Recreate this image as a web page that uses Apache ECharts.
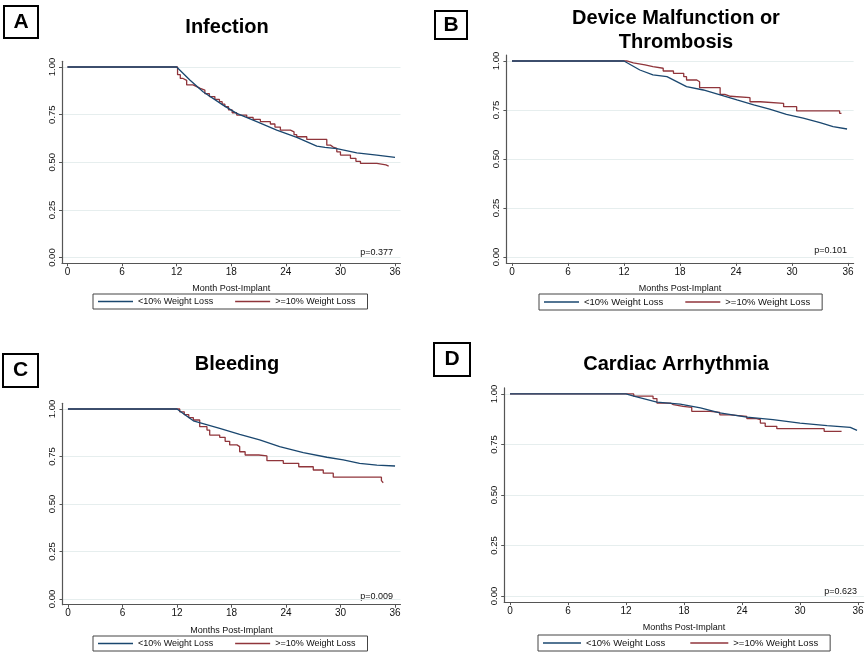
<!DOCTYPE html>
<html><head><meta charset="utf-8">
<script src="https://cdn.jsdelivr.net/npm/echarts@6/dist/echarts.min.js"></script>
<style>html,body{margin:0;padding:0;background:#fff}#c{width:867px;height:657px}</style>
</head><body><div id="c"></div>
<script>
// ---- data (month, survival) ----
const xTicks = [0, 6, 12, 18, 24, 30, 36];
const yTicks = [0, 0.25, 0.5, 0.75, 1];
const seriesNames = ['<10% Weight Loss', '>=10% Weight Loss'];
const panelTitles = ['Infection', 'Device Malfunction or\nThrombosis', 'Bleeding', 'Cardiac Arrhythmia'];
const panelLetters = ['A', 'B', 'C', 'D'];
const xAxisNames = ['Month Post-Implant', 'Months Post-Implant', 'Months Post-Implant', 'Months Post-Implant'];
const pValues = ['p=0.377', 'p=0.101', 'p=0.009', 'p=0.623'];

const infectionLow = [[0,1],[12,1],[13.45,0.932],[14.9,0.87],[17.1,0.8],[18.6,0.757],[20.8,0.713],[23,0.669],[25.2,0.631],[27.4,0.585],[28.3,0.578],[29.6,0.572],[31.8,0.55],[34,0.538],[36,0.526]];
const infectionHigh = [[0,1],[12.1,0.96],[12.4,0.94],[12.7,0.93],[13.1,0.906],[13.8,0.897],[14.2,0.888],[14.6,0.879],[15.1,0.86],[15.6,0.845],[16.2,0.83],[16.7,0.818],[17,0.805],[17.3,0.792],[17.7,0.775],[18.1,0.76],[18.6,0.748],[19.7,0.736],[20.4,0.725],[21.2,0.713],[22.3,0.701],[22.8,0.685],[23.4,0.669],[24.5,0.66],[24.9,0.645],[25.2,0.634],[26.3,0.62],[28.5,0.59],[28.9,0.58],[29.2,0.573],[29.6,0.555],[30,0.538],[31.1,0.521],[31.7,0.505],[32.2,0.494],[34,0.486],[35,0.48],[35.3,0.477]];

const deviceLow = [[0,1],[12,1],[13.7,0.954],[15.1,0.929],[16.6,0.92],[18.7,0.869],[20.5,0.852],[22.3,0.827],[24.1,0.801],[25.9,0.776],[27.6,0.755],[29.4,0.728],[31.2,0.708],[33,0.685],[34.4,0.665],[35.9,0.653]];
const deviceHigh = [[0,1],[12.3,0.99],[13,0.98],[14.25,0.971],[15.1,0.963],[16.2,0.949],[17.3,0.937],[18.4,0.92],[18.7,0.903],[19.8,0.894],[20.1,0.864],[22.3,0.83],[22.8,0.82],[23.4,0.813],[25.5,0.792],[26.6,0.784],[29.1,0.767],[30.5,0.745],[35.1,0.733],[35.3,0.733]];

const bleedingLow = [[0,1],[12,1],[13.1,0.962],[13.8,0.938],[16.7,0.898],[18.9,0.867],[21.1,0.837],[23.3,0.802],[25.9,0.77],[28.5,0.746],[30.3,0.732],[32.1,0.714],[34,0.705],[36,0.7]];
const bleedingHigh = [[0,1],[12.3,0.985],[12.8,0.97],[13.3,0.955],[13.8,0.942],[14.5,0.907],[15.3,0.889],[15.6,0.863],[16.7,0.851],[17.3,0.83],[17.8,0.811],[18.6,0.802],[18.9,0.775],[19.5,0.758],[21,0.753],[21.9,0.728],[23.7,0.714],[25.4,0.696],[27,0.679],[28.1,0.662],[29.2,0.641],[34.5,0.623],[34.7,0.612]];

const arrhythmiaLow = [[0,1],[12,1],[12.8,0.989],[15.2,0.96],[17.6,0.95],[19.7,0.931],[21.7,0.906],[24.5,0.885],[27.2,0.873],[30,0.856],[32.8,0.843],[35.2,0.835],[35.9,0.82]];
const arrhythmiaHigh = [[0,1],[12.8,0.989],[14.8,0.977],[15.2,0.955],[16.6,0.947],[16.9,0.939],[17.9,0.934],[18.8,0.914],[20.7,0.909],[21.7,0.897],[22.8,0.889],[24.5,0.878],[25.5,0.873],[25.9,0.856],[26.4,0.84],[27.6,0.828],[32.5,0.815],[34.3,0.815]];

const lowData = [infectionLow, deviceLow, bleedingLow, arrhythmiaLow];
const highData = [infectionHigh, deviceHigh, bleedingHigh, arrhythmiaHigh];

// ---- layout ----
const FONT = "'Liberation Sans', Arial, sans-serif";
const BLUE = '#1a476f', RED = '#90353b';
const grids = [
  {left: 62, top: 61.3, width: 338.5, height: 202},
  {left: 506.4, top: 55.1, width: 347.2, height: 207.8},
  {left: 62.5, top: 403.3, width: 338, height: 201.4},
  {left: 504.2, top: 387.9, width: 359.6, height: 214.2}
];
const titlePos = [{x: 222, y: 10}, {x: 671, y: 1}, {x: 232, y: 347}, {x: 671, y: 347}];
const letterBox = [{x: 4, y: 6, w: 34, h: 32}, {x: 435, y: 11, w: 32, h: 28}, {x: 3, y: 354, w: 35, h: 33}, {x: 434, y: 343, w: 36, h: 33}];
const legendPos = [
  {left: 93, top: 294, fs: 9, gap: 22, iw: 35},
  {left: 539, top: 294, fs: 9.5, gap: 22, iw: 35},
  {left: 93, top: 636, fs: 9, gap: 22, iw: 35},
  {left: 538, top: 635, fs: 9.5, gap: 25, iw: 38}
];
const pPos = [{x: 393, y: 253}, {x: 847, y: 251}, {x: 393, y: 597}, {x: 857, y: 592}];

const xAxes = [], yAxes = [], series = [], titles = [], legends = [], graphics = [];
for (let i = 0; i < 4; i++) {
  xAxes.push({
    gridIndex: i, type: 'value', min: -0.6, max: 36.6,
    name: xAxisNames[i], nameLocation: 'middle', nameGap: 21,
    nameTextStyle: {fontFamily: FONT, fontSize: 9, color: '#111'},
    axisLine: {show: true, onZero: false, lineStyle: {color: '#555', width: 1.2}},
    axisTick: {show: true, length: 3, customValues: xTicks, lineStyle: {color: '#555'}},
    axisLabel: {customValues: xTicks, fontFamily: FONT, fontSize: 10, color: '#111', margin: 4},
    splitLine: {show: false}
  });
  yAxes.push({
    gridIndex: i, type: 'value', min: -0.03, max: 1.03,
    axisLine: {show: true, onZero: false, lineStyle: {color: '#555', width: 1.2}},
    axisTick: {show: true, length: 3, customValues: yTicks, lineStyle: {color: '#555'}},
    axisLabel: {customValues: yTicks, rotate: 90, fontFamily: FONT, fontSize: 9.5, color: '#111', margin: 5,
      formatter: v => v.toFixed(2)},
    splitLine: {show: true, lineStyle: {color: '#e6eeee', width: 1}}
  });
  series.push({
    name: seriesNames[0], type: 'line', xAxisIndex: i, yAxisIndex: i, data: lowData[i],
    symbol: 'none', showSymbol: false, lineStyle: {color: BLUE, width: 1.3}, itemStyle: {color: BLUE}, z: 3
  });
  series.push({
    name: seriesNames[1], type: 'line', step: 'end', xAxisIndex: i, yAxisIndex: i, data: highData[i],
    symbol: 'none', showSymbol: false, lineStyle: {color: RED, width: 1.3}, itemStyle: {color: RED}, z: 2
  });
  titles.push({
    text: panelTitles[i], left: titlePos[i].x, top: titlePos[i].y, textAlign: 'center',
    textStyle: {fontFamily: FONT, fontSize: 20, fontWeight: 'bold', color: '#000', lineHeight: 24}
  });
  legends.push({
    data: seriesNames, left: legendPos[i].left, top: legendPos[i].top, orient: 'horizontal',
    icon: 'rect', itemWidth: legendPos[i].iw, itemHeight: 1.5, itemGap: legendPos[i].gap,
    padding: [3, 12, 3, 5], borderColor: '#444', borderWidth: 1,
    textStyle: {fontFamily: FONT, fontSize: legendPos[i].fs, color: '#111'}
  });
  const b = letterBox[i];
  graphics.push({
    type: 'group', children: [
      {type: 'rect', shape: {x: b.x, y: b.y, width: b.w, height: b.h}, style: {fill: '#fff', stroke: '#000', lineWidth: 2}},
      {type: 'text', x: b.x + b.w / 2, y: b.y + b.h / 2, style: {text: panelLetters[i], fontFamily: FONT, fontSize: 21, fontWeight: 'bold', fill: '#000', align: 'center', verticalAlign: 'middle'}}
    ]
  });
  graphics.push({
    type: 'text', x: pPos[i].x, y: pPos[i].y,
    style: {text: pValues[i], fontFamily: FONT, fontSize: 9, fill: '#111', align: 'right', verticalAlign: 'middle'}
  });
}

const chart = echarts.init(document.getElementById('c'), null, {renderer: 'canvas'});
chart.setOption({
  backgroundColor: '#fff', animation: false,
  grid: grids, xAxis: xAxes, yAxis: yAxes, series: series,
  title: titles, legend: legends, graphic: graphics
});
</script></body></html>
